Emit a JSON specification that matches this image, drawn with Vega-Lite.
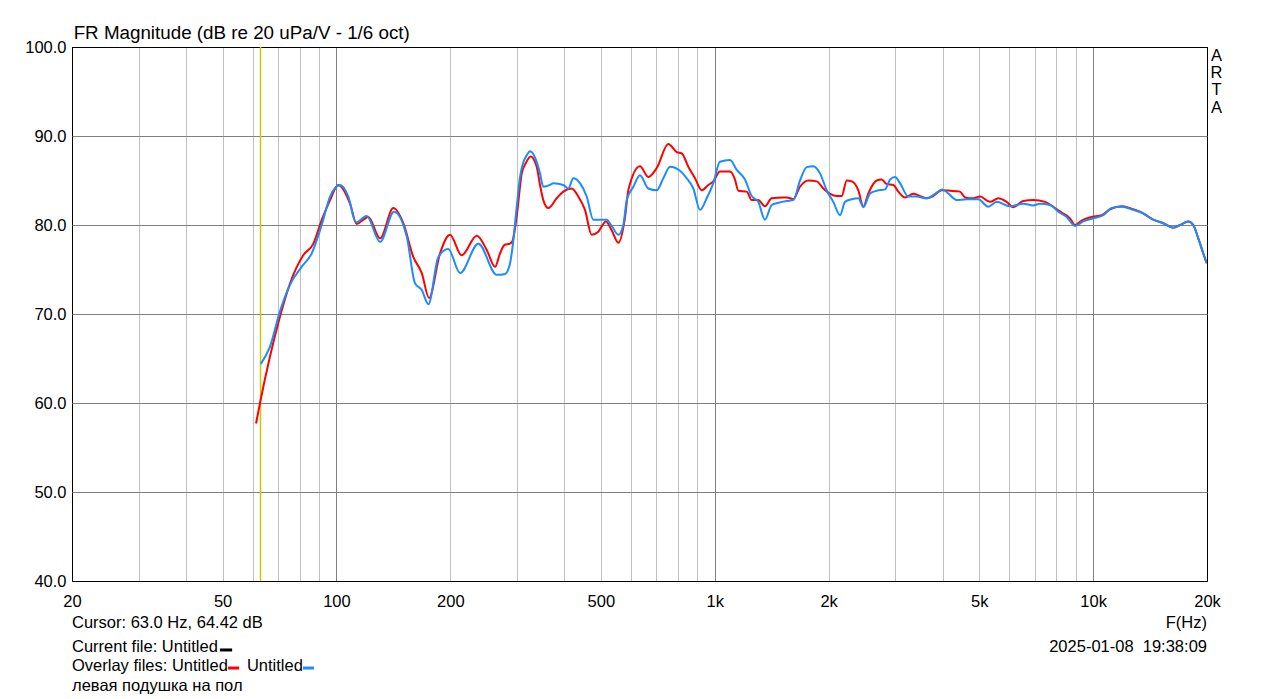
{
  "$schema": "https://vega.github.io/schema/vega-lite/v6.json",
  "width": 1135,
  "height": 534,
  "autosize": {"type": "none"},
  "padding": {"left": 72, "top": 47, "right": 72, "bottom": 118},
  "background": "white",
  "config": {
    "view": {"stroke": "black", "strokeWidth": 1},
    "font": "Liberation Sans",
    "axis": {"labelFont": "Liberation Sans", "labelFontSize": 16.5, "labelColor": "#000000"}
  },
  "datasets": {
    "red": [
      {"f":61.3,"db":57.7},{"f":62.8,"db":60.0},{"f":66.7,"db":65.2},{"f":70.9,"db":69.7},{"f":75.4,"db":73.45},{"f":81.7,"db":76.6},{"f":86.9,"db":77.9},{"f":91.4,"db":80.56},{"f":96.2,"db":82.8},{"f":101.1,"db":84.5},{"f":108.6,"db":82.4},{"f":113.1,"db":80.1},{"f":117.8,"db":80.6},{"f":121.4,"db":80.9},{"f":130.4,"db":78.5},{"f":141.4,"db":81.9},{"f":150.2,"db":80.2},{"f":159.7,"db":76.4},{"f":168.1,"db":74.6},{"f":175.7,"db":71.8},{"f":187.8,"db":76.8},{"f":199.6,"db":78.9},{"f":214.3,"db":76.6},{"f":234.9,"db":78.8},{"f":249.6,"db":77.2},{"f":262.5,"db":75.3},{"f":270.6,"db":76.8},{"f":278,"db":77.75},{"f":287.6,"db":77.9},{"f":292,"db":78.2},{"f":299.6,"db":81.0},{"f":308.9,"db":85.8},{"f":317,"db":87.0},{"f":326,"db":87.7},{"f":338.3,"db":86.55},{"f":345.2,"db":84.5},{"f":352.2,"db":82.8},{"f":363.1,"db":81.9},{"f":382.1,"db":83.0},{"f":397.8,"db":83.75},{"f":418.7,"db":84.1},{"f":435.8,"db":83.2},{"f":453.9,"db":81.7},{"f":472.7,"db":78.9},{"f":492.2,"db":79.25},{"f":515.7,"db":80.4},{"f":534,"db":79.4},{"f":556,"db":78.0},{"f":579.2,"db":80.9},{"f":590.9,"db":83.9},{"f":634.3,"db":86.6},{"f":667.3,"db":85.4},{"f":702.4,"db":86.4},{"f":753.6,"db":89.1},{"f":793.2,"db":88.2},{"f":817.7,"db":88.05},{"f":851.2,"db":86.55},{"f":886.6,"db":85.25},{"f":923.5,"db":83.9},{"f":961.4,"db":84.5},{"f":991.2,"db":84.9},{"f":1032,"db":86.0},{"f":1097,"db":86.0},{"f":1131,"db":85.1},{"f":1154,"db":83.85},{"f":1215,"db":83.75},{"f":1252,"db":82.8},{"f":1303,"db":82.8},{"f":1357,"db":82.1},{"f":1414,"db":83.0},{"f":1517,"db":83.1},{"f":1549,"db":83.1},{"f":1613,"db":82.9},{"f":1680,"db":84.3},{"f":1767,"db":85.0},{"f":1860,"db":84.9},{"f":1936,"db":84.1},{"f":2017,"db":83.5},{"f":2100,"db":83.25},{"f":2165,"db":83.25},{"f":2232,"db":85.0},{"f":2302,"db":84.9},{"f":2396,"db":83.9},{"f":2470,"db":82.05},{"f":2546,"db":83.55},{"f":2680,"db":85.0},{"f":2762,"db":85.1},{"f":2847,"db":84.6},{"f":2965,"db":84.5},{"f":3056,"db":83.75},{"f":3182,"db":83.1},{"f":3348,"db":83.5},{"f":3488,"db":83.25},{"f":3632,"db":83.0},{"f":3780,"db":83.25},{"f":3978,"db":83.9},{"f":4184,"db":83.85},{"f":4448,"db":83.75},{"f":4586,"db":83.1},{"f":4824,"db":83.0},{"f":5024,"db":83.2},{"f":5339,"db":82.6},{"f":5614,"db":83.0},{"f":5908,"db":82.6},{"f":6152,"db":82.0},{"f":6537,"db":82.7},{"f":6950,"db":82.8},{"f":7462,"db":82.6},{"f":7848,"db":82.05},{"f":8260,"db":81.4},{"f":8689,"db":80.75},{"f":8957,"db":80.0},{"f":9329,"db":80.5},{"f":9914,"db":80.9},{"f":10534,"db":81.1},{"f":11083,"db":81.75},{"f":11900,"db":82.1},{"f":12515,"db":81.9},{"f":13303,"db":81.5},{"f":14421,"db":80.6},{"f":15326,"db":80.2},{"f":16287,"db":79.7},{"f":16966,"db":80.0},{"f":17848,"db":80.4},{"f":18400,"db":80.0},{"f":18969,"db":78.5},{"f":19554,"db":76.8},{"f":19964,"db":75.7}
    ],
    "blue": [
      {"f":63.1,"db":64.4},{"f":66.7,"db":66.3},{"f":70.9,"db":70.3},{"f":75.4,"db":73.3},{"f":80.9,"db":75.3},{"f":86.0,"db":76.8},{"f":91.4,"db":80.0},{"f":96.2,"db":83.2},{"f":102.2,"db":84.5},{"f":107.5,"db":83.2},{"f":112.6,"db":80.3},{"f":120.2,"db":81.0},{"f":130.4,"db":78.1},{"f":142.0,"db":81.5},{"f":153.4,"db":78.7},{"f":161.3,"db":73.45},{"f":168.1,"db":72.7},{"f":175.0,"db":71.1},{"f":185.9,"db":76.4},{"f":197.5,"db":77.3},{"f":212.2,"db":74.6},{"f":237.2,"db":77.9},{"f":265.3,"db":74.4},{"f":279,"db":74.5},{"f":287,"db":75.5},{"f":292,"db":77.5},{"f":299.6,"db":82.05},{"f":305.7,"db":85.4},{"f":310,"db":86.7},{"f":318,"db":87.8},{"f":325,"db":88.3},{"f":338.3,"db":87.1},{"f":345.2,"db":85.8},{"f":352.2,"db":84.3},{"f":366.9,"db":84.5},{"f":374.3,"db":84.7},{"f":397.8,"db":84.5},{"f":410.1,"db":84.1},{"f":422.7,"db":85.25},{"f":440.3,"db":84.7},{"f":458.6,"db":83.2},{"f":477.4,"db":80.6},{"f":497.3,"db":80.6},{"f":518,"db":80.6},{"f":534,"db":79.9},{"f":556,"db":78.9},{"f":573.2,"db":80.0},{"f":585.2,"db":82.8},{"f":609.1,"db":84.3},{"f":634.3,"db":85.6},{"f":667.3,"db":84.1},{"f":702.4,"db":83.9},{"f":731.2,"db":85.25},{"f":761.5,"db":86.55},{"f":809.3,"db":86.1},{"f":842.8,"db":85.25},{"f":877.5,"db":84.1},{"f":914,"db":81.7},{"f":952,"db":83.0},{"f":991.2,"db":84.7},{"f":1032,"db":87.1},{"f":1097,"db":87.3},{"f":1143,"db":86.2},{"f":1202,"db":85.1},{"f":1252,"db":83.25},{"f":1303,"db":82.6},{"f":1357,"db":80.6},{"f":1414,"db":82.25},{"f":1472,"db":82.5},{"f":1549,"db":82.7},{"f":1613,"db":82.8},{"f":1680,"db":85.0},{"f":1750,"db":86.5},{"f":1822,"db":86.6},{"f":1897,"db":85.8},{"f":1976,"db":83.9},{"f":2057,"db":82.6},{"f":2143,"db":81.1},{"f":2209,"db":82.6},{"f":2302,"db":82.9},{"f":2396,"db":83.0},{"f":2470,"db":82.0},{"f":2573,"db":83.55},{"f":2680,"db":83.85},{"f":2818,"db":84.0},{"f":2906,"db":85.1},{"f":2995,"db":85.4},{"f":3088,"db":84.7},{"f":3248,"db":83.2},{"f":3418,"db":83.2},{"f":3632,"db":83.0},{"f":3819,"db":83.5},{"f":3993,"db":84.0},{"f":4141,"db":83.55},{"f":4359,"db":82.8},{"f":4633,"db":82.9},{"f":4973,"db":82.9},{"f":5284,"db":82.05},{"f":5560,"db":82.6},{"f":6028,"db":82.1},{"f":6537,"db":82.4},{"f":6950,"db":82.2},{"f":7238,"db":82.4},{"f":7692,"db":82.25},{"f":8090,"db":81.5},{"f":8515,"db":80.9},{"f":8957,"db":79.9},{"f":9420,"db":80.4},{"f":10010,"db":80.75},{"f":10637,"db":81.1},{"f":11198,"db":81.9},{"f":11900,"db":82.05},{"f":12771,"db":81.7},{"f":13573,"db":81.3},{"f":14421,"db":80.6},{"f":15326,"db":80.2},{"f":16287,"db":79.7},{"f":16966,"db":80.0},{"f":17848,"db":80.4},{"f":18400,"db":80.0},{"f":18969,"db":78.5},{"f":19554,"db":76.8},{"f":19964,"db":75.7}
    ],
    "notes": [
      {"t":"FR Magnitude (dB re 20 uPa/V - 1/6 oct)","f":20.2,"db":101.57,"a":"title"},
      {"t":"Cursor: 63.0 Hz, 64.42 dB","f":20,"db":35.28,"a":"left"},
      {"t":"Current file: Untitled","f":20,"db":32.58,"a":"left"},
      {"t":"Overlay files: Untitled","f":20,"db":30.45,"a":"left"},
      {"t":"Untitled","f":58.0,"db":30.45,"a":"left"},
      {"t":"левая подушка на пол","f":20,"db":28.2,"a":"left"},
      {"t":"F(Hz)","f":20000,"db":35.28,"a":"right"},
      {"t":"2025-01-08 \u00a019:38:09","f":20000,"db":32.58,"a":"right"},
      {"t":"A","f":21200,"db":99.0,"a":"center"},
      {"t":"R","f":21200,"db":97.06,"a":"center"},
      {"t":"T","f":21200,"db":95.18,"a":"center"},
      {"t":"A","f":21200,"db":93.19,"a":"center"}
    ],
    "dashes": [
      {"f":49.2,"f2":53.0,"db":32.25,"s":"black"},
      {"f":51.7,"f2":55.3,"db":30.22,"s":"red"},
      {"f":81.6,"f2":87.2,"db":30.22,"s":"blue"}
    ],
    "cursor": [{"f":63}]
  },
  "layer": [
    {
      "data": {"name": "cursor"},
      "mark": {"type": "rule", "color": "#c8c800", "strokeWidth": 1.5},
      "encoding": {
        "x": {
          "field": "f", "type": "quantitative",
          "scale": {"type": "log", "domain": [20, 20000], "nice": false},
          "axis": {
            "values": [20,30,40,50,60,70,80,90,100,200,300,400,500,600,700,800,900,1000,2000,3000,4000,5000,6000,7000,8000,9000,10000,20000],
            "labelExpr": "indexof([20,50,100,200,500,1000,2000,5000,10000,20000], datum.value) >= 0 ? (datum.value >= 1000 ? (datum.value/1000) + 'k' : '' + datum.value) : ''",
            "labelOverlap": false,
            "labelFlush": false,
            "ticks": false,
            "domain": false,
            "labelPadding": 12,
            "title": null,
            "grid": true,
            "gridWidth": 1,
            "gridColor": {
              "condition": [
                {"test": "datum.value == 20 || datum.value == 20000", "value": "#000000"},
                {"test": "datum.value == 100 || datum.value == 1000 || datum.value == 10000", "value": "#808080"}
              ],
              "value": "#c0c0c0"
            }
          }
        },
        "y": {
          "datum": 40, "type": "quantitative",
          "scale": {"domain": [40, 100], "nice": false, "zero": false},
          "axis": {
            "values": [40,50,60,70,80,90,100],
            "format": ".1f",
            "ticks": false,
            "domain": false,
            "labelPadding": 6,
            "title": null,
            "grid": true,
            "gridWidth": 1,
            "gridColor": {
              "condition": {"test": "datum.value == 40 || datum.value == 100", "value": "#000000"},
              "value": "#808080"
            }
          }
        },
        "y2": {"datum": 100}
      }
    },
    {
      "data": {"name": "red"},
      "mark": {"type": "line", "color": "#ff0000", "strokeWidth": 2, "clip": true, "interpolate": "monotone"},
      "encoding": {
        "x": {"field": "f", "type": "quantitative"},
        "y": {"field": "db", "type": "quantitative"}
      }
    },
    {
      "data": {"name": "blue"},
      "mark": {"type": "line", "color": "#1a8cff", "strokeWidth": 2, "clip": true, "interpolate": "monotone"},
      "encoding": {
        "x": {"field": "f", "type": "quantitative"},
        "y": {"field": "db", "type": "quantitative"}
      }
    },
    {
      "data": {"name": "dashes"},
      "mark": {"type": "rule", "strokeWidth": 3},
      "encoding": {
        "x": {"field": "f", "type": "quantitative"},
        "x2": {"field": "f2"},
        "y": {"field": "db", "type": "quantitative"},
        "color": {"field": "s", "type": "nominal", "scale": {"domain": ["black","red","blue"], "range": ["#000000","#ff0000","#1a8cff"]}, "legend": null}
      }
    },
    {
      "data": {"name": "notes"},
      "transform": [{"filter": "datum.a == 'title'"}],
      "mark": {"type": "text", "align": "left", "baseline": "middle", "fontSize": 18.8, "font": "Liberation Sans", "color": "#000000"},
      "encoding": {
        "x": {"field": "f", "type": "quantitative"},
        "y": {"field": "db", "type": "quantitative"},
        "text": {"field": "t"}
      }
    },
    {
      "data": {"name": "notes"},
      "transform": [{"filter": "datum.a == 'left'"}],
      "mark": {"type": "text", "align": "left", "baseline": "middle", "fontSize": 16.5, "font": "Liberation Sans", "color": "#000000"},
      "encoding": {
        "x": {"field": "f", "type": "quantitative"},
        "y": {"field": "db", "type": "quantitative"},
        "text": {"field": "t"}
      }
    },
    {
      "data": {"name": "notes"},
      "transform": [{"filter": "datum.a == 'right'"}],
      "mark": {"type": "text", "align": "right", "baseline": "middle", "fontSize": 16.5, "font": "Liberation Sans", "color": "#000000"},
      "encoding": {
        "x": {"field": "f", "type": "quantitative"},
        "y": {"field": "db", "type": "quantitative"},
        "text": {"field": "t"}
      }
    },
    {
      "data": {"name": "notes"},
      "transform": [{"filter": "datum.a == 'center'"}],
      "mark": {"type": "text", "align": "center", "baseline": "middle", "fontSize": 16.5, "font": "Liberation Sans", "color": "#000000"},
      "encoding": {
        "x": {"field": "f", "type": "quantitative"},
        "y": {"field": "db", "type": "quantitative"},
        "text": {"field": "t"}
      }
    }
  ]
}
